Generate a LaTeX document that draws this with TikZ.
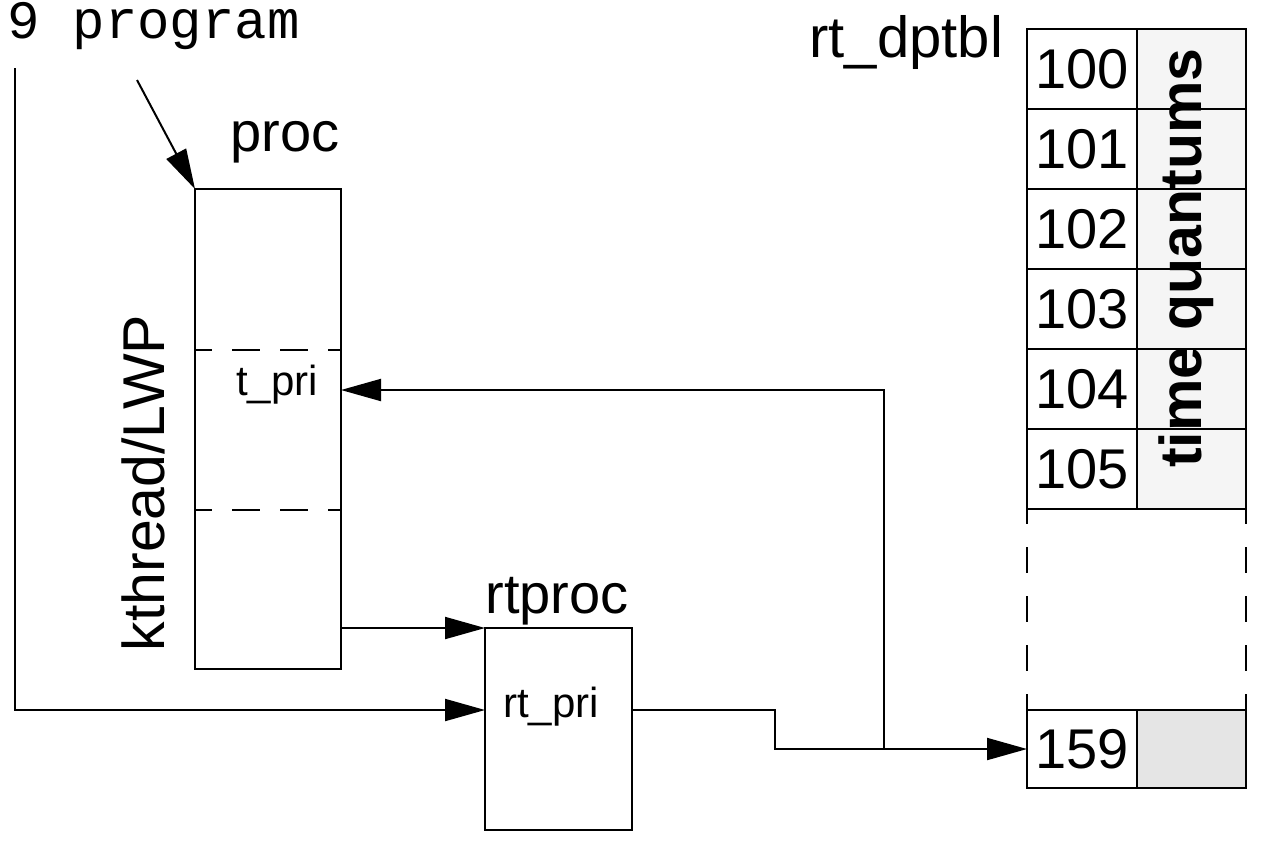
\documentclass[tikz,border=0pt]{standalone}
\usepackage{fontspec}
\setmainfont{Liberation Sans}
\setmonofont{Liberation Mono}
\usetikzlibrary{arrows.meta}
\tikzset{
  boite/.style={
    draw, line width=1pt,
    inner sep=0, outer sep=0,
    minimum width=73pt
  },
  cellule/.style={
    draw, line width=1.1pt,
    inner sep=0, outer sep=0,
    minimum width=55pt, minimum height=40pt,
    font=\fontsize{28}{30}\selectfont
  },
  quantum/.style={cellule, minimum width=54.5pt, fill=gray!8},
  fleche/.style={line width=1pt, -{Triangle[length=20pt,width=11pt]}},
  separ/.style={line width=1pt, dash pattern=on 14pt off 10pt, dash phase=5.5pt},
  grand/.style={font=\fontsize{28}{30}\selectfont},
  petit/.style={font=\fontsize{21}{23}\selectfont}
}

\begin{document}
\begin{tikzpicture}[x=0.5pt,y=-0.5pt]
\useasboundingbox (0,0) rectangle (1261,842);

%%%%%%%%% program
\node[font=\ttfamily\fontsize{27}{29}\selectfont, anchor=base east, inner sep=0] (prog) at (300,38) {9 program};
\coordinate (cmd) at (15,68);
\coordinate (cmdb) at (137,80);

%%%%%%%%% proc
\node[boite, minimum height=240pt, anchor=north west] (proc) at (195,189) {};
\node[grand, anchor=base] (proclbl) at (285,151) {proc};
\node[font=\fontsize{29.5}{31}\selectfont, rotate=90, anchor=base] (kthr) at (164,483) {kthread/LWP};
\draw[separ] ([yshift=-80.5pt]proc.north west) -- ([yshift=-80.5pt]proc.north east);
\draw[separ] ([yshift=-160.5pt]proc.north west) -- ([yshift=-160.5pt]proc.north east);
\node[petit, anchor=base] (tpri) at (277,395) {t\_pri};

%%%%%%%%% rtproc
\node[boite, minimum width=73.5pt, minimum height=101pt, anchor=north west] (rtproc) at (485,628) {};
\node[grand, anchor=base] (rtproclbl) at (557,613) {rtproc};
\node[petit, anchor=base] (rtpri) at (551,717) {rt\_pri};

%%%%%%%%% rt_dptbl
\node[font=\fontsize{29}{31}\selectfont, anchor=base east] (tbl) at (1010,57) {rt\_dptbl};
\foreach \n [count=\i from 0] in {100,...,105} {
  \node[cellule] (n\n) at (1082,{69+80*\i}) {\n};
  \node[quantum] (q\n) at (1191.5,{69+80*\i}) {};
}
\node[cellule, minimum height=39pt] (n159) at (1082,749) {159};
\node[quantum, minimum height=39pt, fill=gray!20] (q159) at (1191.5,749) {};
\draw[line width=1.1pt, dash pattern=on 13pt off 11.5pt, dash phase=5.5pt] (n105.south west) -- (n159.north west);
\draw[line width=1.1pt, dash pattern=on 13pt off 11.5pt, dash phase=5.5pt] (q105.south east) -- (q159.north east);
\node[font=\bfseries\fontsize{29.5}{31}\selectfont, rotate=90, anchor=base] (tq) at (1201,258) {time quantums};

%%%%%%%%% arrows
\draw[fleche] (cmd) |- ([yshift=-41pt]rtproc.north west);
\draw[fleche] (cmdb) -- (proc.north west);
\draw[fleche] (proc.east |- rtproc.north west) -- (rtproc.north west);
\draw[fleche] ([yshift=-41pt]rtproc.north east) -- ++(143,0) |- (n159.west);
\coordinate (emb) at ([xshift=-71.5pt]n159.west);
\draw[fleche] (emb) |- ([yshift=-100.5pt]proc.north east);

\end{tikzpicture}
\end{document}
